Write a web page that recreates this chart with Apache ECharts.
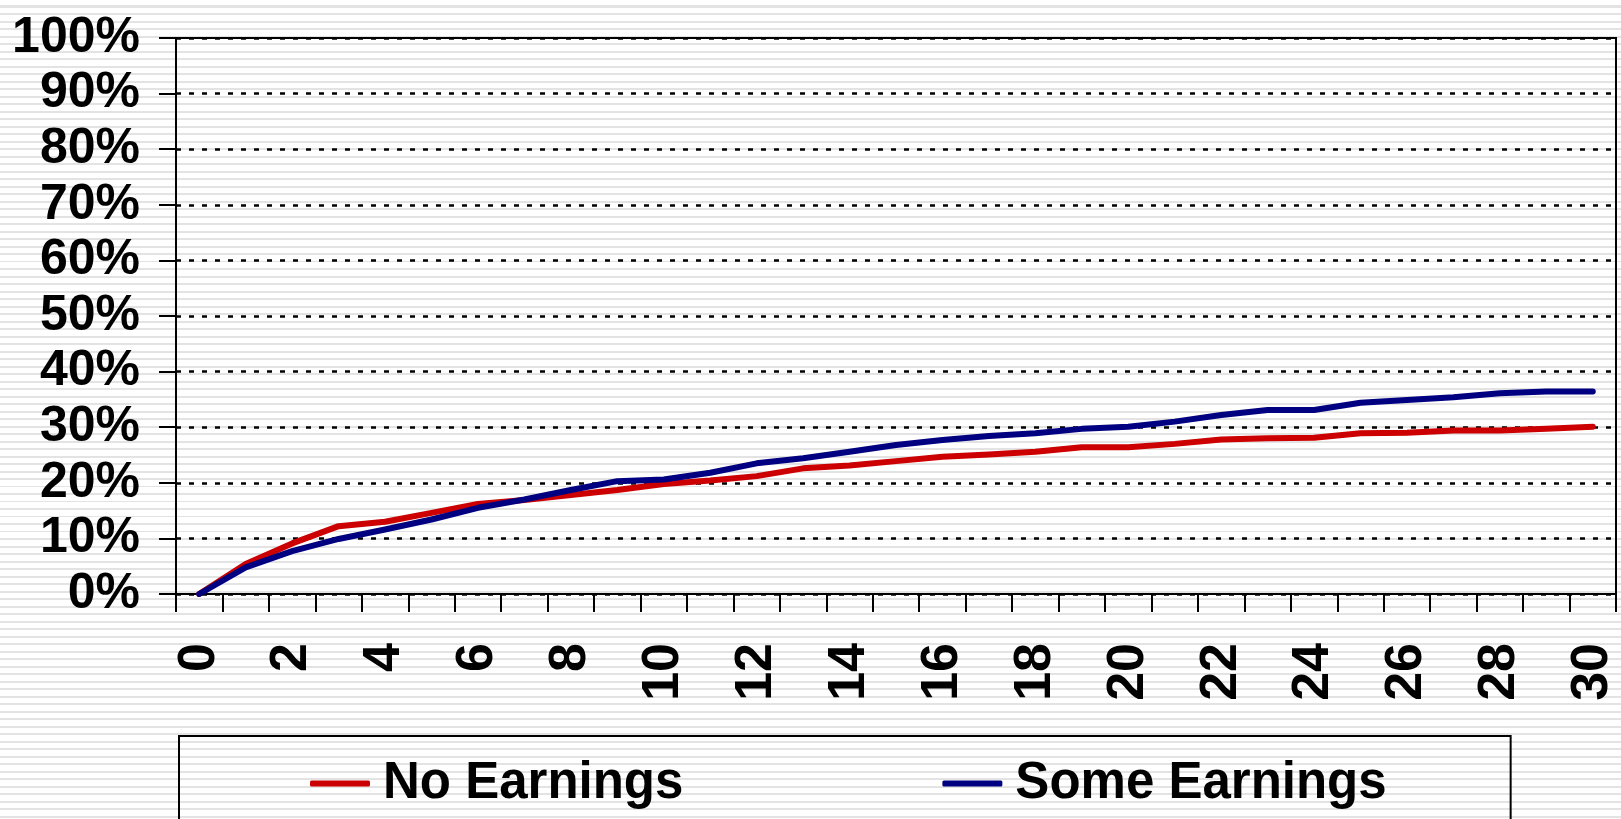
<!DOCTYPE html>
<html>
<head>
    <meta charset="utf-8" />
    <title>Earnings</title>
    <script src="https://cdn.jsdelivr.net/npm/echarts@6/dist/echarts.min.js"></script>
    <style>
        html, body { margin: 0; padding: 0; }
        body {
            background: repeating-linear-gradient(to bottom, #ffffff 0px, #ffffff 5.5px, #e3e3e3 5.5px, #e3e3e3 7.5px);
        }
        #chart1 { width: 1621px; height: 819px; }
    </style>
</head>
<body>
    <div id="chart1"></div>
    <script type="text/javascript">
        var months = [];
        for (var i = 0; i <= 30; i++) months.push(String(i));
        var noEarnings = [0, 5.4, 9.1, 12.2, 13.0, 14.6, 16.2, 16.9, 17.8, 18.7, 19.8, 20.4, 21.2, 22.6, 23.1, 23.9,
            24.7, 25.1, 25.6, 26.4, 26.4, 27.0, 27.8, 28.0, 28.1, 28.9, 29.0, 29.4, 29.4, 29.7, 30.1];
        var someEarnings = [0, 4.8, 7.7, 9.9, 11.6, 13.4, 15.5, 17.0, 18.7, 20.3, 20.6, 21.8, 23.5, 24.4, 25.6, 26.8,
            27.7, 28.4, 28.9, 29.7, 30.1, 31.0, 32.2, 33.1, 33.1, 34.4, 34.9, 35.4, 36.1, 36.4, 36.4];
        var seriesNames = ['No Earnings', 'Some Earnings'];

        var font = '"Liberation Sans", Arial, sans-serif';
        var myChart1 = echarts.init(document.getElementById('chart1'));
        var option = {
            backgroundColor: 'transparent',
            animation: false,
            grid: {
                left: 176, right: 5, top: 38, bottom: 225,
                show: true, borderColor: '#000', borderWidth: 2
            },
            legend: {
                data: seriesNames,
                left: 179,
                top: 736,
                orient: 'horizontal',
                borderColor: '#000',
                borderWidth: 2,
                padding: [22, 124, 80, 131],
                itemGap: 259,
                itemWidth: 60,
                itemHeight: 6,
                icon: 'roundRect',
                textStyle: { fontFamily: font, fontWeight: 'bold', fontSize: 51, color: '#000', padding: [0, 0, 0, 8] }
            },
            xAxis: {
                type: 'category',
                data: months,
                boundaryGap: true,
                axisLine: { lineStyle: { color: '#000', width: 2 } },
                axisTick: { show: true, interval: 0, length: 18, lineStyle: { color: '#000', width: 2 } },
                axisLabel: {
                    interval: 1, rotate: 90, margin: 49,
                    fontFamily: font, fontWeight: 'bold', fontSize: 52, color: '#000'
                },
                splitLine: { show: false }
            },
            yAxis: {
                type: 'value',
                min: 0, max: 100, interval: 10,
                axisLine: { show: true, lineStyle: { color: '#000', width: 2 } },
                axisTick: { show: true, length: 17, lineStyle: { color: '#000', width: 2 } },
                axisLabel: {
                    formatter: '{value}%', margin: 36, showMinLabel: true, showMaxLabel: true,
                    fontFamily: font, fontWeight: 'bold', fontSize: 50, color: '#000'
                },
                splitLine: { show: true, lineStyle: { color: '#000', width: 2.5, type: [5, 8] } }
            },
            series: [
                {
                    name: seriesNames[0],
                    type: 'line',
                    data: noEarnings,
                    showSymbol: false,
                    symbol: 'none',
                    color: '#cc0000',
                    lineStyle: { color: '#cc0000', width: 6, cap: 'round', join: 'round' }
                },
                {
                    name: seriesNames[1],
                    type: 'line',
                    data: someEarnings,
                    showSymbol: false,
                    symbol: 'none',
                    color: '#000080',
                    lineStyle: { color: '#000080', width: 6, cap: 'round', join: 'round' }
                }
            ]
        };
        myChart1.setOption(option);
    </script>
</body>
</html>
